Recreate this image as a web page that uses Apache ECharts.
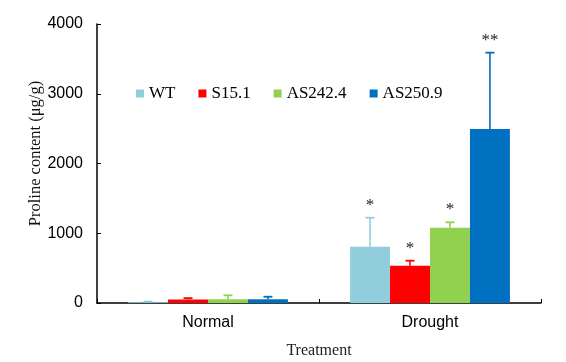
<!DOCTYPE html>
<html>
<head>
<meta charset="utf-8">
<script src="https://cdn.jsdelivr.net/npm/echarts@6/dist/echarts.min.js"></script>
<style>html,body{margin:0;padding:0;background:#fff}#c{width:566px;height:362px}</style>
</head>
<body>
<div id="c"></div>
<script>
var categories = ['Normal', 'Drought'];
var seriesNames = ['WT', 'S15.1', 'AS242.4', 'AS250.9'];
var wtValues = [12, 807];
var wtErrors = [8, 416];
var wtSig = ['', '*'];
var s151Values = [50, 535];
var s151Errors = [20, 71];
var s151Sig = ['', '*'];
var as2424Values = [55, 1080];
var as2424Errors = [55, 77];
var as2424Sig = ['', '*'];
var as2509Values = [55, 2495];
var as2509Errors = [35, 1094];
var as2509Sig = ['', '**'];
var yTicks = [0, 1000, 2000, 3000, 4000];

var colors = ['#92CDDC', '#FF0000', '#92D050', '#0070C0'];
var allValues = [wtValues, s151Values, as2424Values, as2509Values];
var allErrors = [wtErrors, s151Errors, as2424Errors, as2509Errors];
var allSig = [wtSig, s151Sig, as2424Sig, as2509Sig];
var catGap = 0.28;

var series = [];
seriesNames.forEach(function (n, i) {
  series.push({
    name: n, type: 'bar', data: allValues[i], barGap: '0%', barCategoryGap: '28%',
    itemStyle: { color: colors[i] }, silent: true
  });
});
seriesNames.forEach(function (n, i) {
  var d = categories.map(function (c, k) { return [k, allValues[i][k], allErrors[i][k], i]; });
  series.push({
    type: 'custom', name: n + '_err', silent: true, z: 5,
    encode: { x: 0, y: 1 },
    data: d,
    renderItem: function (params, api) {
      var k = api.value(0), v = api.value(1), e = api.value(2), si = api.value(3);
      var sig = allSig[si][k];
      var band = api.size([1, 0])[0];
      var bw = band * (1 - catGap) / 4;
      var base = api.coord([k, v]);
      var top = api.coord([k, v + e]);
      var x = base[0] + (si - 1.5) * bw;
      var children = [
        { type: 'line', shape: { x1: x, y1: base[1], x2: x, y2: top[1] }, style: { stroke: colors[si], lineWidth: 1.6 } },
        { type: 'line', shape: { x1: x - 4.5, y1: top[1], x2: x + 4.5, y2: top[1] }, style: { stroke: colors[si], lineWidth: 1.8 } }
      ];
      if (sig) {
        children.push({ type: 'text', style: { x: x, y: top[1] - 4, text: sig, fill: '#222', font: '17px "Liberation Serif"', align: 'center', verticalAlign: 'bottom' } });
      }
      return { type: 'group', children: children };
    }
  });
});

var chart = echarts.init(document.getElementById('c'), null, { renderer: 'canvas' });
chart.setOption({
  animation: false,
  backgroundColor: '#fff',
  grid: { left: 97, right: 25, top: 24, bottom: 59, containLabel: false, outerBoundsMode: 'none' },
  legend: {
    data: seriesNames, left: 131, top: 80, itemWidth: 8, itemHeight: 8, itemGap: 23,
    icon: 'rect',
    textStyle: { fontFamily: 'Liberation Serif', fontSize: 17, color: '#000' }
  },
  xAxis: {
    type: 'category', data: categories,
    name: 'Treatment', nameLocation: 'middle', nameGap: 40, nameMoveOverlap: false,
    nameTextStyle: { fontFamily: 'Liberation Serif', fontSize: 16, color: '#222' },
    axisLine: { lineStyle: { color: '#000', width: 1.5 } },
    axisTick: { show: true, inside: true, length: 4, lineStyle: { color: '#000' } },
    axisLabel: { fontFamily: 'Liberation Sans', fontSize: 16, color: '#000', margin: 12 }
  },
  yAxis: {
    type: 'value', min: yTicks[0], max: yTicks[yTicks.length - 1], interval: 1000,
    name: 'Proline content (μg/g)', nameLocation: 'middle', nameGap: 53, nameMoveOverlap: false,
    nameTextStyle: { fontFamily: 'Liberation Serif', fontSize: 16.5, color: '#111', padding: [0, 0, 0, 20] },
    axisLine: { show: true, lineStyle: { color: '#000', width: 1.5 } },
    axisTick: { show: true, inside: true, length: 4, lineStyle: { color: '#000' } },
    splitLine: { show: false },
    axisLabel: { fontFamily: 'Liberation Sans', fontSize: 16, color: '#000', margin: 14, formatter: function (v) { return String(v); } }
  },
  series: series
});
</script>
</body>
</html>
